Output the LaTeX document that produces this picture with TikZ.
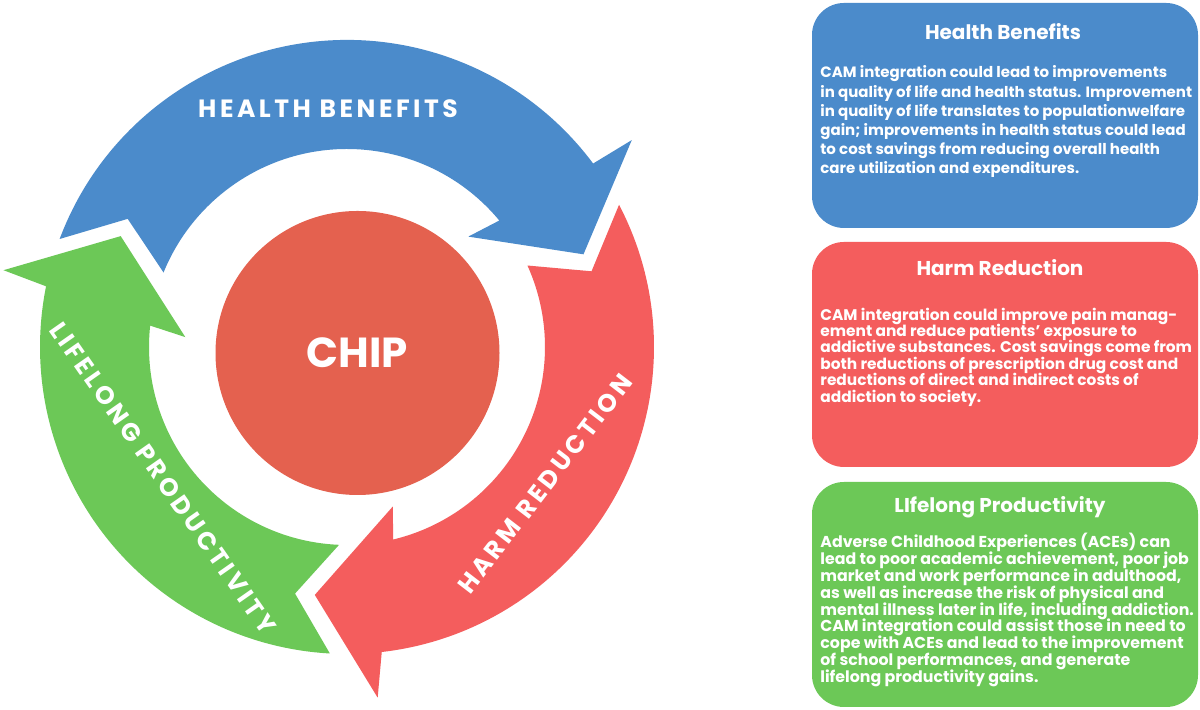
\documentclass[tikz,border=0pt]{standalone}
\usepackage{fontspec}
\setmainfont{Poppins}
\usepackage{xcolor}
\usetikzlibrary{positioning}

\definecolor{hbblue}{HTML}{4B8BCB}
\definecolor{hrred}{HTML}{F45D5D}
\definecolor{lpgreen}{HTML}{6CC857}
\definecolor{chipred}{HTML}{E4614F}

\begin{document}
\lineskiplimit=-10pt
\begin{tikzpicture}[x=0.5pt,y=0.5pt]
	%\draw[help lines] (0,0) grid[step=50] (1200,710);
	\fill[white] (0,0) rectangle (1200,710);
	\useasboundingbox (0,0) rectangle (1200,710);

	\tikzstyle{cnode} = [circle,fill=chipred,text=white,minimum size=142pt,inner sep=0pt,font=\fontsize{21}{21}\selectfont\bfseries]
	\tikzstyle{tlabel} = [text=white,inner sep=0pt,font=\fontsize{12.5}{12.5}\selectfont\bfseries\addfontfeatures{LetterSpace=14}]
	\tikzstyle{ibox} = [rectangle,rounded corners=16pt,minimum width=193pt,minimum height=112.5pt,inner sep=0pt]
	\tikzstyle{ititle} = [text=white,inner sep=0pt,font=\fontsize{10}{10}\selectfont\bfseries]
	\tikzstyle{itext} = [anchor=west,align=left,text=white,inner sep=0pt]

	% cycle arrows
	\begin{scope}[shift={(347,363)}]
	\fill[hbblue] (159.4:153.5pt) arc[start angle=159.4,end angle=36.7,radius=153.5pt]
		-- (36:176pt) -- (21.4:127pt) -- (42.3:82pt) -- (39.7:99pt)
		arc[start angle=39.7,end angle=157.9,radius=99pt] -- (149.7:127pt) -- cycle;
	\fill[hrred] (27.6:153.5pt) arc[start angle=27.6,end angle=-83.5,radius=153.5pt]
		-- (-85:176pt) -- (-97.4:125pt) -- (-74:83pt) -- (-76.5:99pt)
		arc[start angle=-76.5,end angle=24.3,radius=99pt] -- (17.2:128pt) -- cycle;
	\fill[lpgreen] (-93.2:153.5pt) arc[start angle=-93.2,end angle=-191.4,radius=153.5pt]
		-- (-192.6:176pt) -- (-206.1:126pt) -- (-183.5:81pt) -- (-186.2:99pt)
		arc[start angle=-186.2,end angle=-92.3,radius=99pt] -- (-101.9:126pt) -- cycle;
	\end{scope}

	\node[cnode] (chip) at (357.5,357) {CHIP};

	\node[tlabel] (hblabel) at (328,601) {HEALTH BENEFITS};
	\node[tlabel,rotate=52.5] (hrlabel) at (545,226) {HARM REDUCTION};
	\node[tlabel,rotate=-55] (lplabel) at (163,232) {LIFELONG PRODUCTIVITY};

	% info boxes
	\node[ibox,fill=hbblue] (hbbox) at (1005,594.5) {};
	\node[ibox,fill=hrred] (hrbox) at (1005,355.5) {};
	\node[ibox,fill=lpgreen] (lpbox) at (1005,115.5) {};

	\node[ititle] (hbtitle) at (1003,678) {Health Benefits};
	\node[ititle] (hrtitle) at (1000,442) {Harm Reduction};
	\node[ititle] (lptitle) at (1000,203) {LIfelong Productivity};

	\node[itext,font=\fontsize{7.5}{9.6}\selectfont\bfseries] (hbtext) at (820,588) {CAM integration could lead to improvements\\
in quality of life and health status. Improvement\\
in quality of life translates to populationwelfare\\
gain; improvements in health status could lead\\
to cost savings from reducing overall health\\
care utilization and expenditures.};

	\node[itext,font=\fontsize{7.7}{8.2}\selectfont\bfseries] (hrtext) at (820,353) {CAM integration could improve pain manag-\\
ement and reduce patients’ exposure to\\
addictive substances. Cost savings come from\\
both reductions of prescription drug cost and\\
reductions of direct and indirect costs of\\
addiction to society.};

	\node[itext,font=\fontsize{7.9}{8.4}\selectfont\bfseries] (lptext) at (820,100) {Adverse Childhood Experiences (ACEs) can\\
lead to poor academic achievement, poor job\\
market and work performance in adulthood,\\
as well as increase the risk of physical and\\
mental illness later in life, including addiction.\\
CAM integration could assist those in need to\\
cope with ACEs and lead to the improvement\\
of school performances, and generate\\
lifelong productivity gains.};

\end{tikzpicture}
\end{document}
